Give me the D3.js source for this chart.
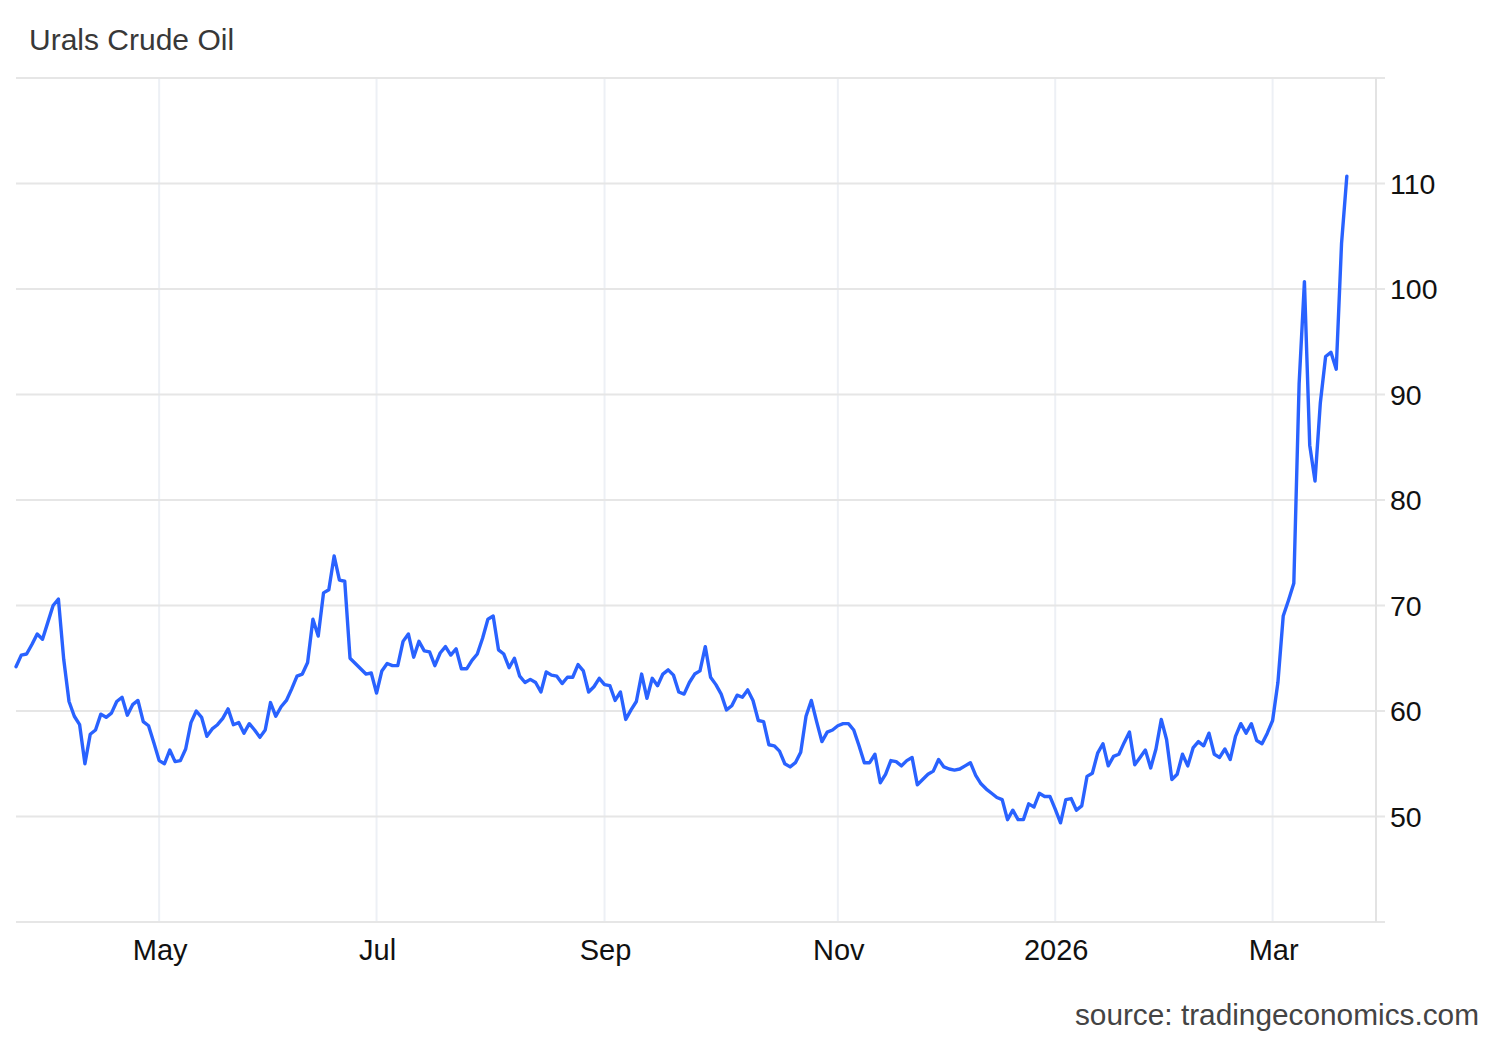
<!DOCTYPE html>
<html>
<head>
<meta charset="utf-8">
<script src="https://cdn.jsdelivr.net/npm/d3@7"></script>
<style>
  html, body { margin: 0; padding: 0; background: #ffffff; }
  svg { display: block; }
  text { font-family: "Liberation Sans", Arial, Helvetica, sans-serif; }
</style>
</head>
<body>
<svg id="chart" width="1500" height="1040"></svg>
<script>
// ---------------- DATA ----------------
const chartTitle = "Urals Crude Oil";
const sourceText = "source: tradingeconomics.com";

// trading-day calendar (weekdays, minus market holidays)
const firstDay = "2025-03-24";
const lastDay = "2026-03-20";
const holidays = ["2025-04-18", "2025-05-26", "2025-06-19", "2025-07-04",
                  "2025-09-01", "2025-11-27", "2025-12-25", "2026-01-01"];

// daily closing prices, USD/bbl, one per trading day
const prices = [
  64.2, 65.3, 65.4, 66.3, 67.3, 66.8, 68.4, 70.0, 70.6, 64.9,
  60.9, 59.5, 58.7, 55.0, 57.8, 58.2, 59.7, 59.4, 59.8, 60.9,
  61.3, 59.6, 60.6, 61.0, 59.0, 58.6, 57.0, 55.3, 55.0, 56.3,
  55.2, 55.3, 56.4, 58.9, 60.0, 59.4, 57.6, 58.3, 58.7, 59.3,
  60.2, 58.7, 58.9, 57.9, 58.8,
  58.2, 57.5, 58.2, 60.8, 59.5, 60.4, 61.0, 62.1, 63.3, 63.5,
  64.6, 68.7, 67.1, 71.2, 71.5, 74.7, 72.4, 72.3, 65.0, 64.5,
  64.0, 63.5, 63.6, 61.7, 63.8, 64.5, 64.3, 64.3, 66.6, 67.3,
  65.1, 66.6, 65.7, 65.6, 64.3, 65.5, 66.1, 65.3, 65.9,
  64.0, 64.0, 64.8, 65.4, 66.9, 68.7, 69.0, 65.8, 65.4, 64.1,
  65.0, 63.3, 62.7, 63.0, 62.7, 61.8, 63.7, 63.4, 63.3, 62.6,
  63.2, 63.2, 64.4, 63.8, 61.8, 62.3, 63.1, 62.5, 62.4, 61.0,
  61.8, 59.2, 60.1, 60.9, 63.5, 61.2, 63.1, 62.4, 63.5, 63.9,
  63.4,
  61.8, 61.6, 62.7, 63.5, 63.8, 66.1, 63.2, 62.5, 61.6, 60.1,
  60.5, 61.5, 61.3, 62.0, 61.0, 59.1, 59.0, 56.8, 56.7, 56.2,
  55.0, 54.7, 55.1, 56.1, 59.5, 61.0, 59.0, 57.1, 58.0, 58.2,
  58.6, 58.8, 58.8, 58.2, 56.7, 55.1, 55.1, 55.9, 53.2, 54.0,
  55.3, 55.2, 54.8, 55.3, 55.6,
  53.0, 53.5, 54.0, 54.3, 55.4, 54.7, 54.5, 54.4, 54.5, 54.8,
  55.1, 53.9, 53.1, 52.6, 52.2, 51.8, 51.6, 49.7, 50.6, 49.7,
  49.7, 51.2, 50.9, 52.2, 51.9, 51.9, 50.7, 49.4, 51.6, 51.7,
  50.6, 51.0, 53.8, 54.1, 56.0, 56.9, 54.8, 55.7, 55.9,
  57.0, 58.0, 54.9, 55.6, 56.3, 54.6, 56.4, 59.2, 57.3, 53.5,
  54.0, 55.9, 54.8, 56.5, 57.1, 56.7, 57.9, 55.9, 55.6, 56.4,
  55.4, 57.6, 58.8, 57.9, 58.8, 57.2, 56.9, 57.9, 59.1,
  62.7, 69.0, 70.5, 72.1, 91.0, 100.7, 85.2, 81.8, 89.2, 93.6,
  94.0, 92.4, 104.3, 110.7
];

// axis ticks
const yTicks = [50, 60, 70, 80, 90, 100, 110];
const yGridValues = [40, 50, 60, 70, 80, 90, 100, 110, 120];
const yDomain = [40, 120];
const xTickMonths = ["2025-05-01", "2025-07-01", "2025-09-01", "2025-11-01", "2026-01-01", "2026-03-01"];
const xTickLabels = ["May", "Jul", "Sep", "Nov", "2026", "Mar"];

// ---------------- BUILD ----------------
(function () {
  const parse = d3.utcParse("%Y-%m-%d");
  const fmt = d3.utcFormat("%Y-%m-%d");
  const holidaySet = new Set(holidays);
  const dates = d3.utcDay.range(parse(firstDay), d3.utcDay.offset(parse(lastDay), 1))
    .filter(d => d.getUTCDay() !== 0 && d.getUTCDay() !== 6 && !holidaySet.has(fmt(d)));
  const data = prices.map((v, i) => ({ i, date: dates[i], value: v }));

  const svg = d3.select("#chart");
  const pLeft = 16, pRight = 1376, pTop = 78, pBottom = 922;

  const x = d3.scaleLinear()
    .domain([0, prices.length - 1 + 5.5])
    .range([pLeft, pRight]);
  const y = d3.scaleLinear()
    .domain(yDomain)
    .range([pBottom, pTop]);

  const xTickIdx = xTickMonths.map(m => {
    const t = parse(m);
    return data.findIndex(d => d.date >= t);
  });

  // vertical grid
  svg.append("g")
    .selectAll("line")
    .data(xTickIdx)
    .join("line")
    .attr("x1", d => x(d)).attr("x2", d => x(d))
    .attr("y1", pTop).attr("y2", pBottom)
    .attr("stroke", "#edf0f5")
    .attr("stroke-width", 2);

  // horizontal grid
  svg.append("g")
    .selectAll("line")
    .data(yGridValues)
    .join("line")
    .attr("x1", pLeft).attr("x2", pRight + 9)
    .attr("y1", d => y(d)).attr("y2", d => y(d))
    .attr("stroke", "#e6e6e6")
    .attr("stroke-width", 2);

  // right axis line
  svg.append("line")
    .attr("x1", pRight).attr("x2", pRight)
    .attr("y1", pTop).attr("y2", pBottom)
    .attr("stroke", "#e3e3e3")
    .attr("stroke-width", 2);

  // y labels
  svg.append("g")
    .selectAll("text")
    .data(yTicks)
    .join("text")
    .attr("x", pRight + 14)
    .attr("y", d => y(d) + 10)
    .attr("font-size", 28.5)
    .attr("fill", "#111")
    .text(d => d);

  // x labels
  svg.append("g")
    .selectAll("text")
    .data(xTickIdx)
    .join("text")
    .attr("x", d => x(d) + 1)
    .attr("y", 960)
    .attr("text-anchor", "middle")
    .attr("font-size", 29)
    .attr("fill", "#111")
    .text((d, k) => xTickLabels[k]);

  // line
  const line = d3.line()
    .x(d => x(d.i))
    .y(d => y(d.value));

  svg.append("path")
    .datum(data)
    .attr("d", line)
    .attr("fill", "none")
    .attr("stroke", "#2962ff")
    .attr("stroke-width", 3.4)
    .attr("stroke-linejoin", "round")
    .attr("stroke-linecap", "round");

  // title & source
  svg.append("text")
    .attr("x", 29).attr("y", 50)
    .attr("font-size", 30)
    .attr("fill", "#383838")
    .text(chartTitle);

  svg.append("text")
    .attr("x", 1479).attr("y", 1025)
    .attr("text-anchor", "end")
    .attr("font-size", 29.8)
    .attr("fill", "#444")
    .text(sourceText);
})();
</script>
</body>
</html>
